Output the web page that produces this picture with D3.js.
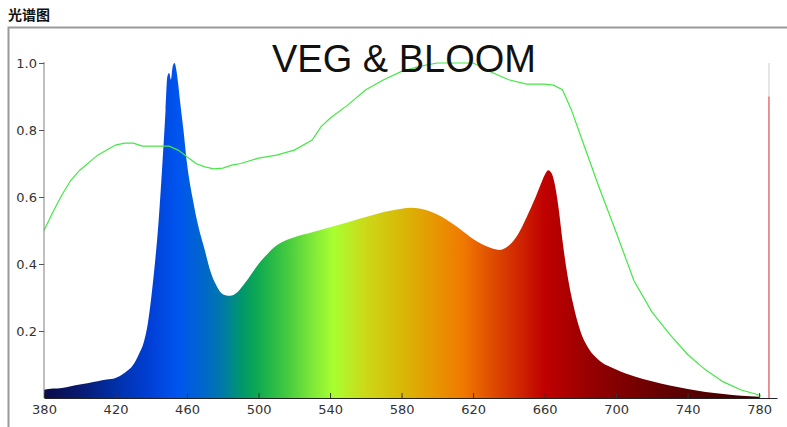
<!DOCTYPE html>
<html><head><meta charset="utf-8">
<script src="https://cdn.jsdelivr.net/npm/d3@7"></script>
<style>body{margin:0;background:#fff;}svg{display:block;}</style>
</head><body>
<script>
const chartTitle = "光谱图";
const seriesName = "VEG & BLOOM";
const xTicks = [380,420,460,500,540,580,620,660,700,740,780];
const yTicks = [0.2,0.4,0.6,0.8,1.0];
const specNm  = [380,385,390,395,400,405,410,415,420,425,430,433,436,438,440,442,444,446,448,449,450,451,452,453,454,455,456,458,460,463,466,470,473,476,480,484,488,492,496,500,505,510,515,520,530,540,550,560,570,580,585,590,600,610,620,630,635,640,645,650,655,658,660,662,664,666,668,670,673,676,680,685,690,700,710,720,730,740,750,760,770,780];
const specVal = [0.025,0.028,0.03,0.035,0.04,0.045,0.05,0.055,0.06,0.075,0.1,0.13,0.17,0.22,0.30,0.40,0.52,0.68,0.86,0.96,0.97,0.95,0.99,1.0,0.98,0.94,0.89,0.8,0.7,0.6,0.52,0.44,0.38,0.34,0.31,0.305,0.315,0.34,0.37,0.40,0.43,0.455,0.47,0.48,0.495,0.51,0.525,0.54,0.555,0.565,0.568,0.566,0.548,0.515,0.475,0.448,0.442,0.455,0.487,0.54,0.6,0.64,0.665,0.68,0.67,0.63,0.56,0.47,0.36,0.28,0.2,0.145,0.115,0.085,0.065,0.05,0.037,0.027,0.018,0.012,0.007,0.004];
const curveNm  = [380,385,390,395,400,410,420,425,430,435,450,455,460,465,470,475,480,485,490,500,510,520,530,535,540,550,560,570,580,590,600,620,625,630,640,650,660,665,670,675,680,690,700,710,720,730,740,750,760,770,778,781];
const curveVal = [0.50,0.555,0.606,0.65,0.68,0.725,0.755,0.761,0.761,0.752,0.752,0.74,0.72,0.70,0.69,0.684,0.686,0.695,0.70,0.716,0.725,0.74,0.77,0.81,0.835,0.875,0.92,0.95,0.975,0.99,1.0,1.0,0.988,0.973,0.95,0.937,0.937,0.934,0.92,0.86,0.785,0.636,0.495,0.35,0.257,0.19,0.13,0.084,0.048,0.024,0.012,0.006];
const markerNm = 785.5;
const markerVal = 0.9;
const gradNm    = [380,400,420,440,455,470,480,490,500,515,530,542,560,580,600,615,630,645,660,690,730,780];
const gradColor = ["#0a0a4a","#081a70","#0030a8","#0040d8","#0055f0","#0068c8","#007aa8","#00966e","#10aa50","#40c840","#7ee838","#a8ff30","#ccd818","#d8b808","#e89400","#f07800","#e04e00","#d02800","#c00000","#900000","#600000","#3a0000"];

const W = 787, H = 427;
const svg = d3.select("body").append("svg").attr("width", W).attr("height", H);
const x = d3.scaleLinear().domain([380, 790]).range([44, 777]);
const y = d3.scaleLinear().domain([0, 1]).range([398, 63]);

// frame
svg.append("path").attr("d", `M8.5,${H} L8.5,27.5 L${W},27.5`).attr("fill","none").attr("stroke","#9a9a9a").attr("stroke-width",2);
svg.append("text").attr("x", 8).attr("y", 20).attr("font-family","'Noto Sans CJK SC', sans-serif").attr("font-weight","bold").attr("font-size",14).attr("fill","#111").text(chartTitle);

// gradient
const defs = svg.append("defs");
const lg = defs.append("linearGradient").attr("id","spec").attr("gradientUnits","userSpaceOnUse")
  .attr("x1", x(380)).attr("x2", x(780)).attr("y1",0).attr("y2",0);
gradNm.forEach((n,i)=> lg.append("stop").attr("offset", (n-380)/400).attr("stop-color", gradColor[i]));

const specData = specNm.map((n,i)=>({n, v: specVal[i]}));
const area = d3.area().x(d=>x(d.n)).y0(y(0)).y1(d=>y(d.v)).curve(d3.curveMonotoneX);
svg.append("path").datum(specData).attr("d", area).attr("fill","url(#spec)");

const curveData = curveNm.map((n,i)=>({n, v: curveVal[i]}));
svg.append("path").datum(curveData).attr("d", d3.line().x(d=>x(d.n)).y(d=>y(d.v))).attr("fill","none").attr("stroke","#44e844").attr("stroke-width",1.2);

// marker line
svg.append("line").attr("x1", x(markerNm)).attr("x2", x(markerNm)).attr("y1", y(1)).attr("y2", y(markerVal)).attr("stroke","#dddddd").attr("stroke-width",1.5);
svg.append("line").attr("x1", x(markerNm)).attr("x2", x(markerNm)).attr("y1", y(markerVal)).attr("y2", y(0)).attr("stroke","#e07070").attr("stroke-width",1.5);

// axes
const ya = svg.append("g").attr("transform", `translate(${x(380)},0)`)
  .call(d3.axisLeft(y).tickValues(yTicks).tickFormat(d3.format(".1f")).tickSize(5).tickSizeOuter(0));
ya.select(".domain").attr("stroke","#808080").attr("d", `M0,${y(1)-1}V${y(0)}`);
ya.selectAll(".tick line").attr("stroke","#555");
ya.selectAll(".tick text").attr("font-family","'DejaVu Sans', sans-serif").attr("font-size",13).attr("fill","#333").attr("x",-7);

const xa = svg.append("g").attr("transform", `translate(0,${y(0)})`)
  .call(d3.axisBottom(x).tickValues(xTicks).tickFormat(d3.format("d")).tickSizeInner(-5).tickSizeOuter(0));
xa.select(".domain").attr("stroke","#222");
xa.selectAll(".tick line").attr("stroke","#333");
xa.selectAll(".tick text").attr("font-family","'DejaVu Sans', sans-serif").attr("font-size",13).attr("fill","#333").attr("y",7);

svg.append("text").attr("x", 404).attr("y", 72).attr("text-anchor","middle").attr("font-family","'Liberation Sans', Arial, sans-serif").attr("font-size",38).attr("fill","#111").text(seriesName);
</script>
</body></html>
